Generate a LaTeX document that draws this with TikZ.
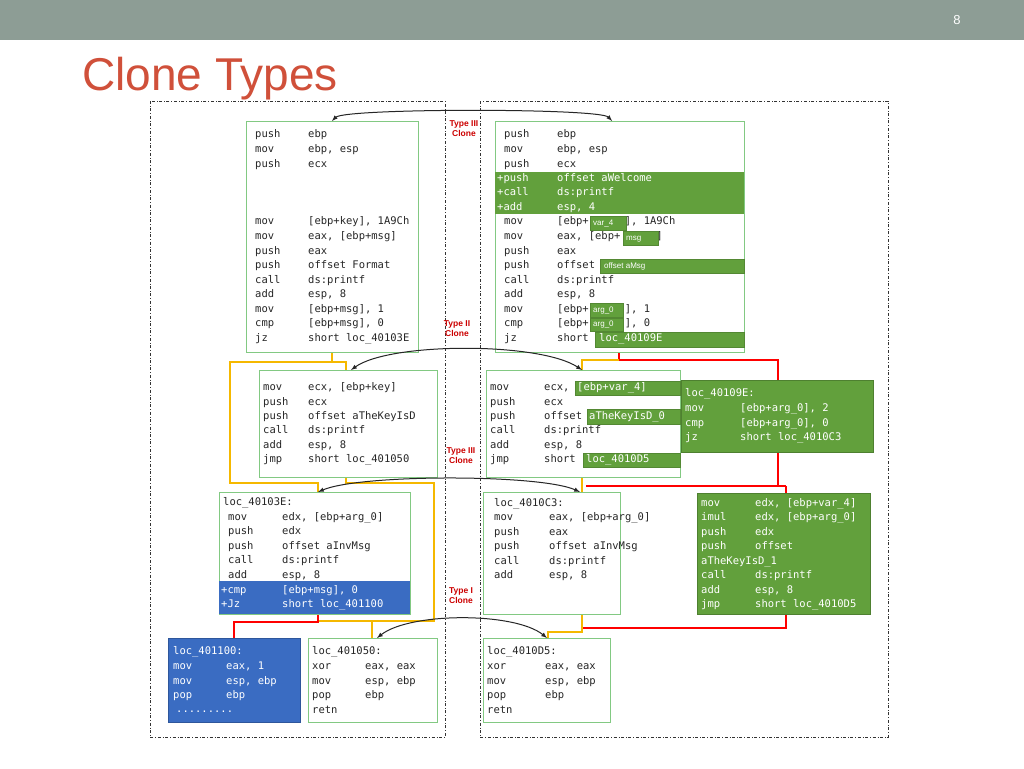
\documentclass[tikz,border=0pt]{standalone}
\usepackage{fontspec}
\setmainfont{Liberation Sans}
\setmonofont{DejaVu Sans Mono}
\begin{document}
\begin{tikzpicture}[x=1pt,y=-1pt,
  code/.style={anchor=mid west,inner sep=0pt,font=\ttfamily\fontsize{10.5}{12}\selectfont,text=black!85},
  wcode/.style={code,text=white},
  wbox/.style={draw=green!40!gray!70,fill=white,line width=0.8pt},
  gbox/.style={draw=gfill!80!black,fill=gfill,line width=0.6pt},
  bbox/.style={draw=bfill!80!black,fill=bfill,line width=0.6pt},
  hl/.style={fill=gfill,draw=gfill!85!black,line width=0.4pt},
  hltxt/.style={anchor=mid west,inner sep=0pt,text=white,font=\fontsize{8}{9}\selectfont},
  lbl/.style={text=red!80!black,font=\bfseries\fontsize{8.5}{10}\selectfont,align=center},
  frame/.style={dash dot,line width=0.6pt,draw=black!80},
  yel/.style={draw=yline,line width=2.8pt},
  rd/.style={draw=red,line width=2.8pt},
  arr/.style={-latex,line width=1pt,black!85}]
\definecolor{gfill}{HTML}{62A03C}
\definecolor{bfill}{HTML}{3A6CC2}
\definecolor{yline}{HTML}{F5B800}
\definecolor{banner}{HTML}{8D9D95}
\definecolor{titlec}{HTML}{D0503A}
\newcommand\Ln[6][code]{\node[#1] at (#2,#4) {#5}; \node[#1] at (#2+#3,#4) {#6};}
\useasboundingbox (0,0) rectangle (1024,768);
\fill[white] (0,0) rectangle (1024,768);
\fill[banner] (0,0) rectangle (1024,40);
\node[text=white,font=\fontsize{13}{14}\selectfont] (pg) at (957,20) {8};
\node[anchor=base west,inner sep=0pt,text=titlec,font=\fontsize{46}{50}\selectfont] (title) at (82,90) {Clone Types};
% frames
\draw[frame] (150,101) rectangle (445,737);
\draw[frame] (480,101) rectangle (888,737);
% connector lines (behind boxes)
\draw[yel] (332,352) -- (332,362) -- (230,362) -- (230,483) -- (318,483) -- (318,492);
\draw[yel] (332,362) -- (346,362) -- (346,370);
\draw[yel] (346,477) -- (346,483) -- (434,483) -- (434,621) -- (318,621);
\draw[yel] (372,621) -- (372,638);
\draw[rd] (318,614) -- (318,622) -- (234,622) -- (234,638);
\draw[rd] (619,352) -- (619,360) -- (778,360) -- (778,380);
\draw[yel] (619,360) -- (582,360) -- (582,370);
\draw[rd] (778,452) -- (778,486) -- (586,486);
\draw[rd] (786,486) -- (786,493);
\draw[rd] (778,486) -- (786,486);
\draw[yel] (582,477) -- (582,492);
\draw[rd] (786,614) -- (786,628) -- (582,628);
\draw[yel] (582,614) -- (582,632) -- (548,632) -- (548,638);
% --- Box A
\draw[wbox] (246,121) rectangle (418,352);
\coordinate (aT) at (332,121);
\Ln{255}{53}{135}{push}{ebp}
\Ln{255}{53}{150}{mov}{ebp, esp}
\Ln{255}{53}{165}{push}{ecx}
\Ln{255}{53}{222}{mov}{[ebp+key], 1A9Ch}
\Ln{255}{53}{237}{mov}{eax, [ebp+msg]}
\Ln{255}{53}{252}{push}{eax}
\Ln{255}{53}{266}{push}{offset Format}
\Ln{255}{53}{281}{call}{ds:printf}
\Ln{255}{53}{295}{add}{esp, 8}
\Ln{255}{53}{310}{mov}{[ebp+msg], 1}
\Ln{255}{53}{324}{cmp}{[ebp+msg], 0}
\Ln{255}{53}{339}{jz}{short loc\_40103E}
% --- Box B
\draw[wbox] (495,121) rectangle (744,352);
\coordinate (bT) at (612,121);
\fill[gfill] (495,172) rectangle (744,214);
\Ln{504}{53}{135}{push}{ebp}
\Ln{504}{53}{150}{mov}{ebp, esp}
\Ln{504}{53}{165}{push}{ecx}
\Ln[wcode]{497}{60}{179}{+push}{offset aWelcome}
\Ln[wcode]{497}{60}{193}{+call}{ds:printf}
\Ln[wcode]{497}{60}{208}{+add}{esp, 4}
\Ln{504}{53}{222}{mov}{[ebp+\hspace{36pt}], 1A9Ch}
\Ln{504}{53}{237}{mov}{eax, [ebp+\hspace{36pt}]}
\Ln{504}{53}{252}{push}{eax}
\Ln{504}{53}{266}{push}{offset}
\Ln{504}{53}{281}{call}{ds:printf}
\Ln{504}{53}{295}{add}{esp, 8}
\Ln{504}{53}{310}{mov}{[ebp+\hspace{36pt}], 1}
\Ln{504}{53}{324}{cmp}{[ebp+\hspace{36pt}], 0}
\Ln{504}{53}{339}{jz}{short}
\draw[hl] (590,216) rectangle (626,230); \node[hltxt] at (593,223) {var\_4};
\draw[hl] (623,231) rectangle (658,245); \node[hltxt] at (626,238) {msg};
\draw[hl] (600,259) rectangle (744,273); \node[hltxt] at (604,266) {offset aMsg};
\draw[hl] (590,303) rectangle (623,317); \node[hltxt] at (593,310) {arg\_0};
\draw[hl] (590,318) rectangle (623,331); \node[hltxt] at (593,324) {arg\_0};
\draw[hl] (595,332) rectangle (744,347); \node[wcode] at (599,339) {loc\_40109E};
% --- Box C
\draw[wbox] (259,370) rectangle (437,477);
\coordinate (cT) at (351,370);
\Ln{263}{45}{388}{mov}{ecx, [ebp+key]}
\Ln{263}{45}{403}{push}{ecx}
\Ln{263}{45}{417}{push}{offset aTheKeyIsD}
\Ln{263}{45}{431}{call}{ds:printf}
\Ln{263}{45}{446}{add}{esp, 8}
\Ln{263}{45}{460}{jmp}{short loc\_401050}
% --- Box D
\draw[wbox] (486,370) rectangle (680,477);
\coordinate (dT) at (582,370);
\Ln{490}{54}{388}{mov}{ecx,}
\Ln{490}{54}{403}{push}{ecx}
\Ln{490}{54}{417}{push}{offset}
\Ln{490}{54}{431}{call}{ds:printf}
\Ln{490}{54}{446}{add}{esp, 8}
\Ln{490}{54}{460}{jmp}{short}
\draw[hl] (575,381) rectangle (680,395); \node[wcode] at (577,388) {[ebp+var\_4]};
\draw[hl] (587,409) rectangle (680,424); \node[wcode] at (589,417) {aTheKeyIsD\_0};
\draw[hl] (583,453) rectangle (680,467); \node[wcode] at (586,460) {loc\_4010D5};
% --- Box E
\draw[gbox] (681,380) rectangle (873,452);
\node[wcode] at (685,394) {loc\_40109E:};
\Ln[wcode]{685}{55}{409}{mov}{[ebp+arg\_0], 2}
\Ln[wcode]{685}{55}{424}{cmp}{[ebp+arg\_0], 0}
\Ln[wcode]{685}{55}{438}{jz}{short loc\_4010C3}
% --- Box F
\draw[wbox] (219,492) rectangle (410,614);
\fill[bfill] (219,581) rectangle (410,614);
\node[code] at (223,503) {loc\_40103E:};
\Ln{228}{54}{518}{mov}{edx, [ebp+arg\_0]}
\Ln{228}{54}{532}{push}{edx}
\Ln{228}{54}{547}{push}{offset aInvMsg}
\Ln{228}{54}{561}{call}{ds:printf}
\Ln{228}{54}{576}{add}{esp, 8}
\Ln[wcode]{221}{61}{591}{+cmp}{[ebp+msg], 0}
\Ln[wcode]{221}{61}{605}{+Jz}{short loc\_401100}
% --- Box G
\draw[wbox] (483,492) rectangle (620,614);
\node[code] at (494,504) {loc\_4010C3:};
\Ln{494}{55}{518}{mov}{eax, [ebp+arg\_0]}
\Ln{494}{55}{533}{push}{eax}
\Ln{494}{55}{547}{push}{offset aInvMsg}
\Ln{494}{55}{562}{call}{ds:printf}
\Ln{494}{55}{576}{add}{esp, 8}
% --- Box H
\draw[gbox] (697,493) rectangle (870,614);
\Ln[wcode]{701}{54}{504}{mov}{edx, [ebp+var\_4]}
\Ln[wcode]{701}{54}{518}{imul}{edx, [ebp+arg\_0]}
\Ln[wcode]{701}{54}{533}{push}{edx}
\Ln[wcode]{701}{54}{547}{push}{offset}
\node[wcode] at (701,562) {aTheKeyIsD\_1};
\Ln[wcode]{701}{54}{576}{call}{ds:printf}
\Ln[wcode]{701}{54}{591}{add}{esp, 8}
\Ln[wcode]{701}{54}{605}{jmp}{short loc\_4010D5}
% --- Box I
\draw[bbox] (168,638) rectangle (300,722);
\node[wcode] at (173,652) {loc\_401100:};
\Ln[wcode]{173}{53}{667}{mov}{eax, 1}
\Ln[wcode]{173}{53}{682}{mov}{esp, ebp}
\Ln[wcode]{173}{53}{696}{pop}{ebp}
\node[wcode] at (176,710) {.........};
% --- Box J
\draw[wbox] (308,638) rectangle (437,722);
\node[code] at (312,652) {loc\_401050:};
\Ln{312}{53}{667}{xor}{eax, eax}
\Ln{312}{53}{682}{mov}{esp, ebp}
\Ln{312}{53}{696}{pop}{ebp}
\node[code] at (312,711) {retn};
% --- Box K
\draw[wbox] (483,638) rectangle (610,722);
\node[code] at (487,652) {loc\_4010D5:};
\Ln{487}{58}{667}{xor}{eax, eax}
\Ln{487}{58}{682}{mov}{esp, ebp}
\Ln{487}{58}{696}{pop}{ebp}
\node[code] at (487,711) {retn};
% clone arrows
\coordinate (fT) at (318,492); \coordinate (gT) at (580,492);
\coordinate (jT) at (377,638); \coordinate (kT) at (547,638);
\draw[arr,latex-latex] (aT) .. controls (345,108) and (600,108) .. (bT);
\draw[arr,latex-latex] (cT) .. controls (390,342) and (540,342) .. (dT);
\draw[arr,latex-latex] (fT) .. controls (360,474) and (540,474) .. (gT);
\draw[arr,latex-latex] (jT) .. controls (410,612) and (515,612) .. (kT);
% labels
\node[lbl] (l1) at (464,129) {Type III\\Clone};
\node[lbl] (l2) at (457,329) {Type II\\Clone};
\node[lbl] (l3) at (461,456) {Type III\\Clone};
\node[lbl] (l4) at (461,596) {Type I\\Clone};
\end{tikzpicture}
\end{document}
